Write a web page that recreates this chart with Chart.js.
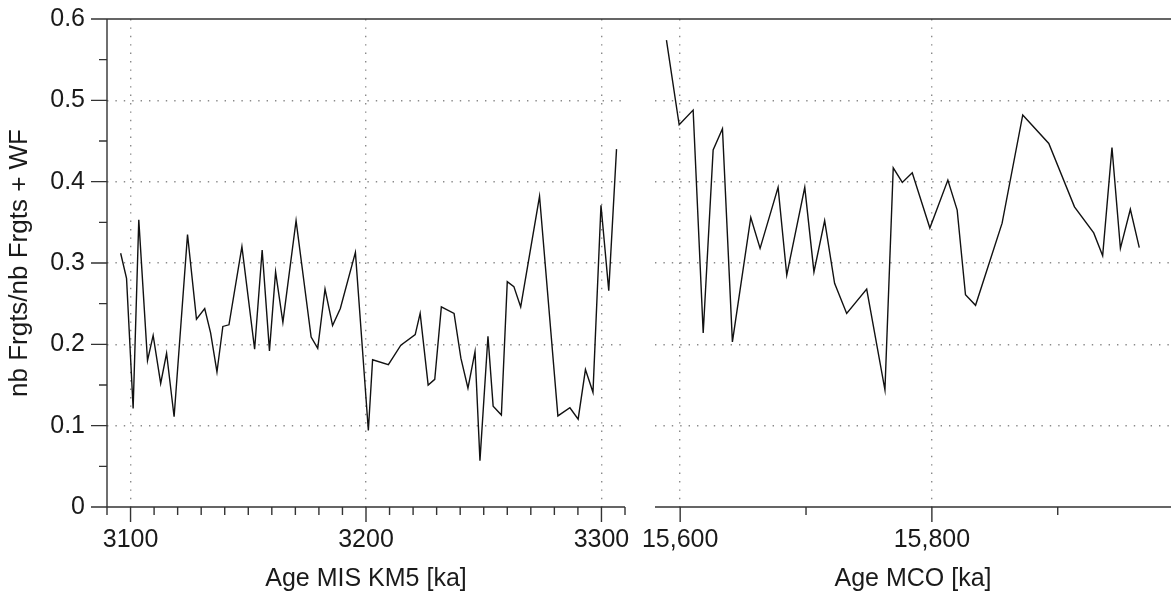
<!DOCTYPE html>
<html>
<head>
<meta charset="utf-8">
<script src="https://cdn.jsdelivr.net/npm/chart.js@4"></script>
<style>
  body { margin: 0; background: #fff; }
  #wrap { position: relative; width: 1171px; height: 594px; }
  #wrap canvas { position: absolute; top: 0; }
  #leftChart { left: 0; }
  #rightChart { left: 640px; }
</style>
</head>
<body>
<div id="wrap">
  <canvas id="leftChart" width="640" height="594"></canvas>
  <canvas id="rightChart" width="531" height="594"></canvas>
</div>
<script>
// MIS KM5 interval
const ageKM5 = [3095.8, 3098.3, 3101.1, 3103.5, 3107.2, 3109.6, 3112.8, 3115.3, 3118.5, 3124.2,
  3128.0, 3131.5, 3134.0, 3136.7, 3139.2, 3141.8, 3147.3, 3152.7, 3155.9, 3159.0,
  3161.6, 3164.7, 3170.3, 3176.7, 3179.5, 3182.6, 3185.8, 3189.1, 3195.5, 3201.0,
  3202.8, 3209.5, 3214.8, 3220.9, 3223.0, 3226.4, 3229.2, 3232.0, 3237.4, 3240.3,
  3243.3, 3246.3, 3248.4, 3251.8, 3254.0, 3257.5, 3260.0, 3262.8, 3265.7, 3273.7,
  3281.5, 3286.6, 3290.1, 3293.2, 3296.4, 3299.8, 3303.1, 3306.4];
const valKM5 = [0.312, 0.281, 0.121, 0.353, 0.180, 0.211, 0.152, 0.189, 0.111, 0.335,
  0.231, 0.244, 0.214, 0.166, 0.222, 0.224, 0.320, 0.194, 0.316, 0.192,
  0.289, 0.227, 0.352, 0.209, 0.195, 0.268, 0.223, 0.244, 0.313, 0.094,
  0.181, 0.175, 0.199, 0.212, 0.238, 0.150, 0.157, 0.246, 0.238, 0.183,
  0.146, 0.191, 0.057, 0.210, 0.124, 0.113, 0.277, 0.271, 0.246, 0.382,
  0.112, 0.122, 0.108, 0.169, 0.141, 0.371, 0.266, 0.440];

// MCO interval
const ageMCO = [15589.1, 15599.2, 15610.3, 15618.3, 15626.2, 15633.6, 15641.5, 15656.1, 15663.5, 15677.8,
  15684.7, 15699.0, 15706.3, 15714.8, 15722.7, 15732.3, 15748.2, 15762.7, 15769.3, 15776.5,
  15784.4, 15798.4, 15812.7, 15820.1, 15826.7, 15834.7, 15855.8, 15872.2, 15892.9, 15913.3,
  15928.6, 15935.7, 15943.1, 15949.8, 15957.7, 15964.8];
const valMCO = [0.574, 0.470, 0.488, 0.214, 0.439, 0.465, 0.203, 0.356, 0.318, 0.393,
  0.285, 0.393, 0.289, 0.352, 0.275, 0.238, 0.268, 0.144, 0.417, 0.399,
  0.411, 0.343, 0.402, 0.365, 0.261, 0.248, 0.349, 0.482, 0.447, 0.369,
  0.337, 0.309, 0.442, 0.318, 0.366, 0.319];

// axis ticks
const yMajor = [0, 0.1, 0.2, 0.3, 0.4, 0.5, 0.6];
const yMinor = [0.05, 0.15, 0.25, 0.35, 0.45, 0.55];
const xMajorKM5 = [3100, 3200, 3300];
const xMajorMCO = [15600, 15800];
const xMinorMCO = [15700, 15900];
const xMinorKM5 = [];
for (let v = 3090; v <= 3310; v += 10) {
  if (!xMajorKM5.includes(v)) xMinorKM5.push(v);
}

Chart.defaults.font.family = "'Liberation Sans', Arial, sans-serif";
Chart.defaults.font.size = 25;
Chart.defaults.color = '#1a1a1a';

const GRID = '#8a8a8a';
const AXIS = '#333';

function isIn(list, v) {
  return list.some(x => Math.abs(x - v) < 1e-6);
}

// no automatic label padding: plot box is placed by layout.padding only
function noPad(s) {
  s.paddingTop = 0;
  s.paddingBottom = 0;
  s.paddingLeft = 0;
  s.paddingRight = 0;
}

// axis lines + tick marks (long for labelled ticks, short for minor)
const frame = {
  id: 'frame',
  afterDraw(chart, args, opts) {
    const {ctx, chartArea: a, scales} = chart;
    ctx.save();
    ctx.strokeStyle = AXIS;
    ctx.lineWidth = 1.4;
    ctx.beginPath();
    ctx.moveTo(opts.topFrom === 'edge' ? 0 : a.left, a.top);
    ctx.lineTo(chart.width, a.top);
    ctx.moveTo(a.left, a.bottom);
    ctx.lineTo(a.right, a.bottom);
    if (opts.yAxis) {
      ctx.moveTo(a.left, a.top);
      ctx.lineTo(a.left, a.bottom);
    }
    ctx.stroke();

    ctx.beginPath();
    opts.xMajor.forEach(v => {
      const x = scales.x.getPixelForValue(v);
      ctx.moveTo(x, a.bottom); ctx.lineTo(x, a.bottom + 15);
    });
    opts.xMinor.forEach(v => {
      const x = scales.x.getPixelForValue(v);
      ctx.moveTo(x, a.bottom); ctx.lineTo(x, a.bottom + 8);
    });
    if (opts.yAxis) {
      yMajor.forEach(v => {
        const y = scales.y.getPixelForValue(v);
        ctx.moveTo(a.left, y); ctx.lineTo(a.left - 16, y);
      });
      yMinor.forEach(v => {
        const y = scales.y.getPixelForValue(v);
        ctx.moveTo(a.left, y); ctx.lineTo(a.left - 8, y);
      });
    }
    ctx.stroke();
    ctx.restore();
  }
};

function makePanel(canvasId, ages, vals, xMin, xMax, xMajor, xMinor, xTitle, withY) {
  const xTicks = xMajor.concat(xMinor).sort((a, b) => a - b);
  const yTicks = yMajor.concat(yMinor).sort((a, b) => a - b);
  return new Chart(document.getElementById(canvasId), {
    type: 'line',
    data: {
      datasets: [{
        data: ages.map((x, i) => ({x: x, y: vals[i]})),
        borderColor: '#111',
        borderWidth: 1.4,
        pointRadius: 0,
        tension: 0,
        fill: false
      }]
    },
    options: {
      responsive: false,
      animation: false,
      layout: {padding: {top: 19, right: withY ? 15 : 0, left: withY ? 0 : 15, bottom: 0}},
      plugins: {
        legend: {display: false},
        tooltip: {enabled: false},
        frame: {xMajor: xMajor, xMinor: xMinor, yAxis: withY, topFrom: withY ? 'axis' : 'edge'}
      },
      scales: {
        x: {
          type: 'linear',
          min: xMin,
          max: xMax,
          afterBuildTicks: s => { s.ticks = xTicks.map(v => ({value: v})); },
          afterFit: s => { s.height = 87; noPad(s); },
          border: {display: false, dash: [1.4, 7]},
          grid: {
            drawTicks: false,
            lineWidth: 1.4,
            color: c => (c.tick && isIn(xMajor, c.tick.value)) ? GRID : 'transparent'
          },
          ticks: {
            autoSkip: false,
            maxRotation: 0,
            padding: 18,
            callback: v => isIn(xMajor, v) ? (v >= 10000 ? v.toLocaleString('en-US') : String(v)) : ''
          },
          title: {display: true, text: xTitle, padding: {top: 0, bottom: 0}}
        },
        y: {
          min: 0,
          max: 0.6,
          afterBuildTicks: s => { s.ticks = yTicks.map(v => ({value: v})); },
          afterFit: s => { s.width = withY ? 107 : 0; noPad(s); },
          border: {display: false, dash: [1.4, 7]},
          grid: {
            drawTicks: false,
            lineWidth: 1.4,
            color: c => {
              if (!c.tick) return 'transparent';
              const v = c.tick.value;
              return (isIn(yMajor, v) && v > 0.001 && v < 0.599) ? GRID : 'transparent';
            }
          },
          ticks: {
            display: withY,
            autoSkip: false,
            padding: 22,
            callback: v => isIn(yMajor, v) ? String(Math.round(v * 10) / 10) : ''
          },
          title: {display: withY, text: 'nb Frgts/nb Frgts + WF', font: {size: 26}, padding: {top: 4, bottom: 0}}
        }
      }
    },
    plugins: [frame]
  });
}

makePanel('leftChart', ageKM5, valKM5, 3090, 3310, xMajorKM5, xMinorKM5, 'Age MIS KM5 [ka]', true);
makePanel('rightChart', ageMCO, valMCO, 15580, 15990, xMajorMCO, xMinorMCO, 'Age MCO [ka]', false);
</script>
</body>
</html>
